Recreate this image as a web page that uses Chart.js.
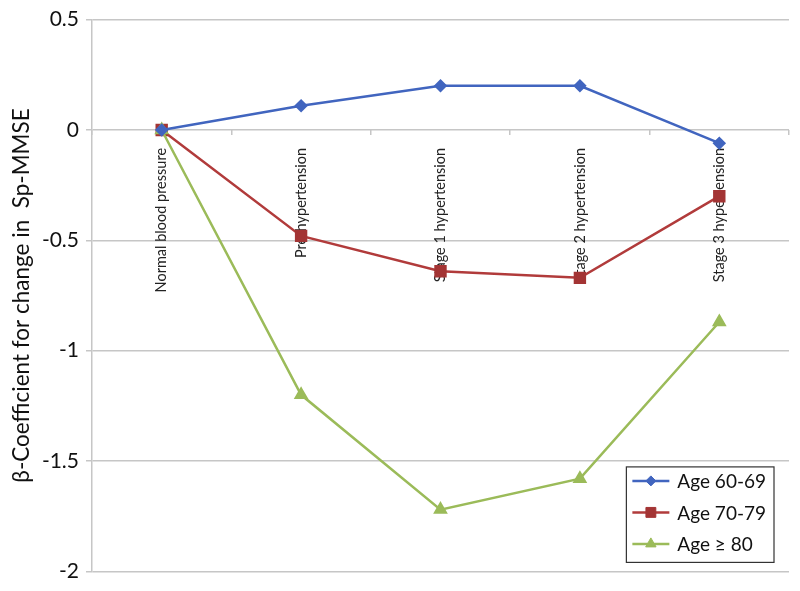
<!DOCTYPE html>
<html>
<head>
<meta charset="utf-8">
<script src="https://cdn.jsdelivr.net/npm/chart.js@4.4.1/dist/chart.umd.min.js"></script>
<style>
  body { margin: 0; background: #fff; }
  #wrap { width: 800px; height: 591px; }
</style>
</head>
<body>
<div id="wrap"><canvas id="canvas"></canvas></div>
<script>
// categories along the x axis
var stages = ['Normal blood pressure', 'Pre-hypertension', 'Stage 1 hypertension', 'Stage 2 hypertension', 'Stage 3 hypertension'];
// beta coefficients
var age6069 = [0, 0.11, 0.20, 0.20, -0.06];
var age7079 = [0, -0.48, -0.64, -0.67, -0.30];
var age80 = [0, -1.20, -1.72, -1.58, -0.87];
var seriesNames = ['Age 60-69', 'Age 70-79', 'Age \u2265 80'];
var yTicks = [0.5, 0, -0.5, -1, -1.5, -2];

const ctx = document.getElementById('canvas');
const FONT = 'Lato, "Open Sans", sans-serif';
const gridCol = '#c6c6c6';

// legend box drawn in the lower right of the plot area
const boxLegend = {
  id: 'boxLegend',
  afterDraw(chart) {
    const c = chart.ctx;
    const area = chart.chartArea;
    const sets = chart.data.datasets;
    c.save();
    c.font = '19px ' + FONT;
    let w = 0;
    sets.forEach(ds => { w = Math.max(w, c.measureText(ds.label).width); });
    const boxW = 51 + w + 8, rowH = 31.5, boxH = rowH * sets.length + 1;
    const right = area.right - 15, bottom = area.bottom - 9;
    const left = right - boxW, top = bottom - boxH;
    c.fillStyle = '#fff';
    c.fillRect(left, top, boxW, boxH);
    c.strokeStyle = '#333';
    c.lineWidth = 1.2;
    c.strokeRect(left, top, boxW, boxH);
    sets.forEach((ds, i) => {
      const y = top + 14 + i * rowH;
      c.strokeStyle = ds.borderColor;
      c.lineWidth = ds.borderWidth;
      c.beginPath();
      c.moveTo(left + 6, y);
      c.lineTo(left + 43, y);
      c.stroke();
      c.fillStyle = ds.pointBackgroundColor;
      c.strokeStyle = ds.pointBorderColor;
      c.lineWidth = 1;
      Chart.helpers.drawPoint(c, { pointStyle: ds.pointStyle, radius: ds.pointRadius, borderWidth: 1, rotation: 0 }, left + 24.5, y);
      c.fillStyle = '#111';
      c.textBaseline = 'middle';
      c.textAlign = 'left';
      c.fillText(ds.label, left + 51, y + 1);
    });
    c.restore();
  }
};

new Chart(ctx, {
  type: 'line',
  data: {
    labels: stages,
    datasets: [
      {
        label: seriesNames[0],
        data: age6069,
        borderColor: '#4165BF',
        borderWidth: 2.5,
        pointStyle: 'rectRot',
        pointRadius: 5,
        pointBackgroundColor: '#4165BF',
        pointBorderColor: '#4165BF',
        order: 1,
      },
      {
        label: seriesNames[1],
        data: age7079,
        borderColor: '#B13B3B',
        borderWidth: 2.5,
        pointStyle: 'rect',
        pointRadius: 7,
        pointBackgroundColor: '#A33434',
        pointBorderColor: '#A33434',
        order: 3,
      },
      {
        label: seriesNames[2],
        data: age80,
        borderColor: '#9BBB59',
        borderWidth: 2.5,
        pointStyle: 'triangle',
        pointRadius: 6,
        pointBackgroundColor: '#9BBB59',
        pointBorderColor: '#9BBB59',
        order: 2,
      },
    ],
  },
  options: {
    responsive: true,
    maintainAspectRatio: false,
    animation: false,
    layout: { padding: { top: 19, right: 11, bottom: 19, left: 0 } },
    elements: { line: { tension: 0 } },
    plugins: { legend: { display: false }, tooltip: { enabled: false } },
    scales: {
      x: {
        type: 'category',
        position: { y: 0 },
        offset: true,
        afterFit: s => { s.height = 0; },
        grid: { display: true, offset: true, drawOnChartArea: false, drawTicks: true, tickLength: 5, color: gridCol, lineWidth: 1.5 },
        border: { display: false },
        ticks: {
          autoSkip: false,
          minRotation: 90,
          maxRotation: 90,
          padding: 13,
          color: '#222',
          font: { family: FONT, size: 14.5 },
        },
      },
      y: {
        min: -2,
        max: 0.5,
        afterFit: s => { s.width = 92; },
        afterBuildTicks: s => { s.ticks = yTicks.map(v => ({ value: v })); },
        grid: { color: gridCol, lineWidth: 1.5, tickLength: 6 },
        border: { color: gridCol, width: 1.5 },
        ticks: {
          padding: 7,
          color: '#111',
          font: { family: FONT, size: 21 },
          callback: v => String(v),
        },
        title: {
          display: true,
          text: '\u03b2-Coefficient for change in  Sp-MMSE',
          color: '#111',
          font: { family: FONT, size: 22.5 },
          padding: { top: 8, bottom: 0 },
        },
      },
    },
  },
  plugins: [boxLegend],
});
</script>
</body>
</html>
